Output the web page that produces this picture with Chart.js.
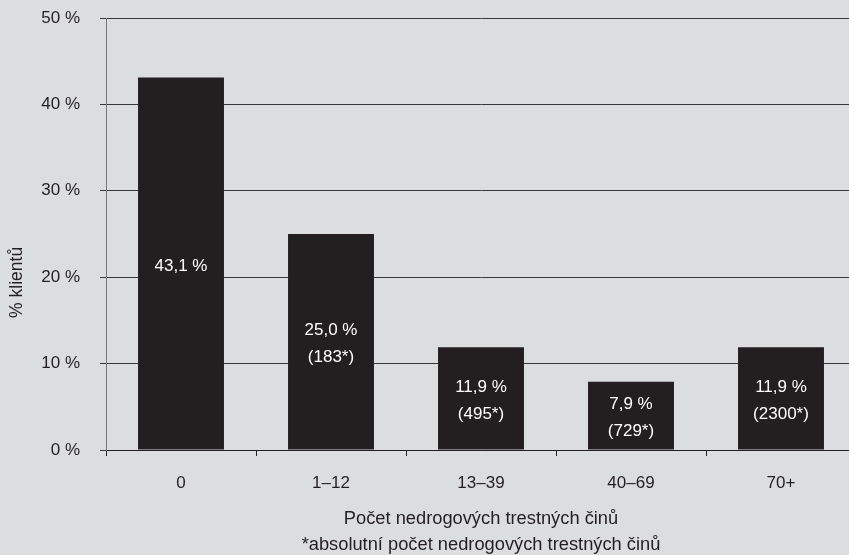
<!DOCTYPE html>
<html>
<head>
<meta charset="utf-8">
<script src="https://cdn.jsdelivr.net/npm/chart.js@4.4.1/dist/chart.umd.min.js"></script>
<style>
  html, body { margin: 0; padding: 0; background: #dcdddf; overflow: hidden; }
  #wrap { width: 856px; height: 555px; }
</style>
</head>
<body>
<div id="wrap"><canvas id="c" width="856" height="555"></canvas></div>
<script>
// Share of clients by number of non-drug offences
const categories = ['0', '1–12', '13–39', '40–69', '70+'];
const percentClients = [43.1, 25.0, 11.9, 7.9, 11.9];
const absoluteOffences = [null, 183, 495, 729, 2300];
const yTicks = [0, 10, 20, 30, 40, 50];
const yTitle = '% klientů';

const FONT = 'Liberation Sans, Arial, Helvetica, sans-serif';
const TEXT = '#231f20';

// Paint the grey canvas background
const background = {
  id: 'background',
  beforeDraw(chart) {
    const ctx = chart.ctx;
    ctx.save();
    ctx.fillStyle = '#dcdddf';
    ctx.fillRect(0, 0, chart.width, chart.height);
    ctx.restore();
  }
};

// Rotated y-axis title, sitting a little below the middle of the plot
const yAxisTitle = {
  id: 'yAxisTitle',
  afterDraw(chart) {
    const ctx = chart.ctx;
    const area = chart.chartArea;
    const cy = area.top + (area.bottom - area.top) * 0.612;
    ctx.save();
    ctx.translate(17.5, cy);
    ctx.rotate(-Math.PI / 2);
    ctx.fillStyle = TEXT;
    ctx.font = '17.5px ' + FONT;
    ctx.textAlign = 'center';
    ctx.textBaseline = 'middle';
    ctx.fillText(yTitle, 0, 0);
    ctx.restore();
  }
};

// White value labels centred inside each bar
const barLabels = {
  id: 'barLabels',
  afterDatasetsDraw(chart) {
    const ctx = chart.ctx;
    const meta = chart.getDatasetMeta(0);
    ctx.save();
    ctx.fillStyle = '#ffffff';
    ctx.font = '17px ' + FONT;
    ctx.textAlign = 'center';
    ctx.textBaseline = 'middle';
    meta.data.forEach((bar, i) => {
      const v = percentClients[i];
      const lines = [v.toFixed(1).replace('.', ',') + ' %'];
      if (absoluteOffences[i] !== null) lines.push('(' + absoluteOffences[i] + '*)');
      const mid = (bar.y + bar.base) / 2;
      const gap = 27;
      const start = lines.length === 1 ? mid + 3 : mid + 2 - gap / 2;
      lines.forEach((t, k) => ctx.fillText(t, bar.x, start + k * gap));
    });
    ctx.restore();
  }
};

new Chart(document.getElementById('c'), {
  type: 'bar',
  data: {
    labels: categories,
    datasets: [{
      data: percentClients,
      backgroundColor: '#231f20',
      borderWidth: 0,
      categoryPercentage: 1,
      barPercentage: 0.573
    }]
  },
  options: {
    responsive: false,
    animation: false,
    layout: { padding: { top: 18, right: 0, bottom: 0, left: 0 } },
    plugins: { legend: { display: false }, tooltip: { enabled: false } },
    scales: {
      x: {
        afterFit(scale) { scale.height = 105; },
        grid: { display: true, drawOnChartArea: false, drawTicks: true, tickLength: 6, color: '#231f20', offset: true },
        border: { display: true, color: '#231f20', width: 1 },
        ticks: { color: TEXT, font: { family: FONT, size: 17 }, padding: 17, maxRotation: 0 },
        title: {
          display: true,
          text: ['Počet nedrogových trestných činů', '*absolutní počet nedrogových trestných činů'],
          color: TEXT,
          font: { family: FONT, size: 18.3, lineHeight: 1.42 },
          padding: { top: 0, bottom: -3 }
        }
      },
      y: {
        min: 0,
        max: 50,
        afterFit(scale) {
          scale.width = 106;
          scale.paddingTop = 0;
          scale.paddingBottom = 0;
        },
        afterBuildTicks(scale) { scale.ticks = yTicks.map(v => ({ value: v })); },
        grid: { color: '#3a3738', lineWidth: 1, tickLength: 6, drawTicks: true },
        border: { display: true, color: '#77787a', width: 1 },
        ticks: {
          color: TEXT,
          font: { family: FONT, size: 17 },
          padding: 20,
          callback: v => v + ' %'
        },
        title: { display: false }
      }
    }
  },
  plugins: [background, yAxisTitle, barLabels]
});
</script>
</body>
</html>
